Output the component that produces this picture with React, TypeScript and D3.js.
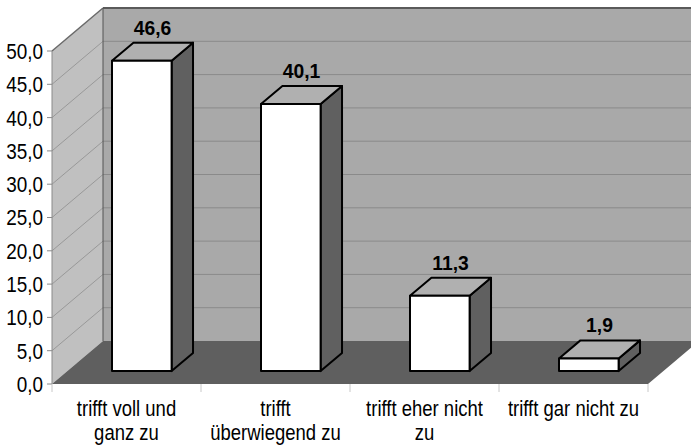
import React, { useEffect, useRef } from 'react';
import * as d3 from 'd3';

const categories = ['trifft voll und|ganz zu', 'trifft|überwiegend zu', 'trifft eher nicht|zu', 'trifft gar nicht zu'];
const values = [46.6, 40.1, 11.3, 1.9];
const yTicks = [0, 5, 10, 15, 20, 25, 30, 35, 40, 45, 50];

export default function App() {
  const svgRef = useRef<SVGSVGElement>(null);

  const width = 691;
  const height = 447;

  // 3D depth offset of the floor / walls
  const depthX = 51;
  const depthY = 43;
  const font = 'Liberation Sans, Arial, sans-serif';

  useEffect(() => {
    document.body.style.margin = '0';
    const svg = d3.select(svgRef.current).attr('width', width).attr('height', height);
    svg.selectAll('*').remove();

    const xScale = d3.scaleBand().domain(categories).range([52, 648]).padding(0);
    const yScale = d3.scaleLinear().domain([0, 50]).range([384, 51]);

    const px = (x: number, d: number) => x + d * depthX;
    const py = (y: number, d: number) => y - d * depthY;
    const pts = (arr: [number, number][]) => arr.map((p) => p.join(',')).join(' ');

    const x0 = 52;
    const x1 = 648;
    const yb = yScale(0);
    const yt = yScale(50);

    // back wall
    svg.append('polygon')
      .attr('points', pts([[px(x0, 1), py(yt, 1)], [px(x1, 1) + 10, py(yt, 1)], [px(x1, 1) + 10, py(yb, 1)], [px(x0, 1), py(yb, 1)]]))
      .attr('fill', '#a9a9a9');

    // left wall
    svg.append('polygon')
      .attr('points', pts([[x0, yt], [px(x0, 1), py(yt, 1)], [px(x0, 1), py(yb, 1)], [x0, yb]]))
      .attr('fill', '#c0c0c0');

    // gridlines
    yTicks.forEach((t) => {
      const y = yScale(t);
      if (t > 0) {
        svg.append('line')
          .attr('x1', px(x0, 1)).attr('y1', py(y, 1))
          .attr('x2', width).attr('y2', py(y, 1))
          .attr('stroke', t === 50 ? '#5a5a5a' : '#8a8a8a')
          .attr('stroke-width', t === 50 ? 2 : 1);
        svg.append('line')
          .attr('x1', x0).attr('y1', y)
          .attr('x2', px(x0, 1)).attr('y2', py(y, 1))
          .attr('stroke', t === 50 ? '#6a6a6a' : '#8e8e8e')
          .attr('stroke-width', t === 50 ? 1.5 : 0.8);
      }
    });

    // wall corner edge
    svg.append('line')
      .attr('x1', px(x0, 1)).attr('y1', py(yt, 1))
      .attr('x2', px(x0, 1)).attr('y2', py(yb, 1))
      .attr('stroke', '#555').attr('stroke-width', 1);

    // floor
    svg.append('polygon')
      .attr('points', pts([[x0, yb], [x1, yb], [px(x1, 1), py(yb, 1)], [px(x0, 1), py(yb, 1)]]))
      .attr('fill', '#5f5f5f');

    // y axis
    svg.append('line')
      .attr('x1', x0).attr('y1', yt).attr('x2', x0).attr('y2', yb)
      .attr('stroke', '#8a8a8a').attr('stroke-width', 1);
    yTicks.forEach((t) => {
      const y = yScale(t);
      svg.append('line')
        .attr('x1', x0 - 5).attr('y1', y).attr('x2', x0).attr('y2', y)
        .attr('stroke', '#8a8a8a');
      svg.append('text')
        .attr('transform', `translate(43,${y}) scale(0.86,1)`)
        .attr('dy', '0.36em')
        .attr('text-anchor', 'end')
        .attr('font-family', font)
        .attr('font-size', 22)
        .attr('fill', '#000')
        .text(d3.format('.1f')(t).replace('.', ','));
    });

    // x category ticks
    const boundaries = [...categories.map((c) => xScale(c) as number), x1];
    boundaries.forEach((b) => {
      svg.append('line')
        .attr('x1', b).attr('y1', yb).attr('x2', b).attr('y2', yb + 8)
        .attr('stroke', '#c8c8c8');
    });

    // bars
    const bw = xScale.bandwidth() * 0.4;
    const dFront = 0.3;
    const dBack = 0.72;
    categories.forEach((c, i) => {
      const v = values[i];
      const cx = (xScale(c) as number) + xScale.bandwidth() / 2;
      const fx0 = px(cx - bw / 2, dFront);
      const fx1 = px(cx + bw / 2, dFront);
      const bx1 = px(cx + bw / 2, dBack);
      const bx0 = px(cx - bw / 2, dBack);
      const fyTop = py(yScale(v), dFront);
      const fyBot = py(yScale(0), dFront);
      const byTop = py(yScale(v), dBack);
      const byBot = py(yScale(0), dBack);

      const g = svg.append('g')
        .attr('stroke', '#000').attr('stroke-width', 2).attr('stroke-linejoin', 'round');
      // side
      g.append('polygon')
        .attr('points', pts([[fx1, fyTop], [bx1, byTop], [bx1, byBot], [fx1, fyBot]]))
        .attr('fill', '#606060');
      // top
      g.append('polygon')
        .attr('points', pts([[fx0, fyTop], [bx0, byTop], [bx1, byTop], [fx1, fyTop]]))
        .attr('fill', '#b0b0b0');
      // front
      g.append('rect')
        .attr('x', fx0).attr('y', fyTop)
        .attr('width', fx1 - fx0).attr('height', fyBot - fyTop)
        .attr('fill', '#fff');

      svg.append('text')
        .attr('transform', `translate(${(fx0 + bx1) / 2},${byTop - 8}) scale(0.92,1)`)
        .attr('text-anchor', 'middle')
        .attr('font-family', font)
        .attr('font-size', 21)
        .attr('font-weight', 'bold')
        .attr('fill', '#000')
        .text(d3.format('.1f')(v).replace('.', ','));

      // category label
      const lines = c.split('|');
      lines.forEach((ln, j) => {
        svg.append('text')
          .attr('transform', `translate(${cx},${416 + j * 24}) scale(0.86,1)`)
          .attr('text-anchor', 'middle')
          .attr('font-family', font)
          .attr('font-size', 21.5)
          .attr('fill', '#000')
          .text(ln);
      });
    });
  }, []);

  return (
    <div>
      <svg ref={svgRef} style={{ display: 'block' }}></svg>
    </div>
  );
}
